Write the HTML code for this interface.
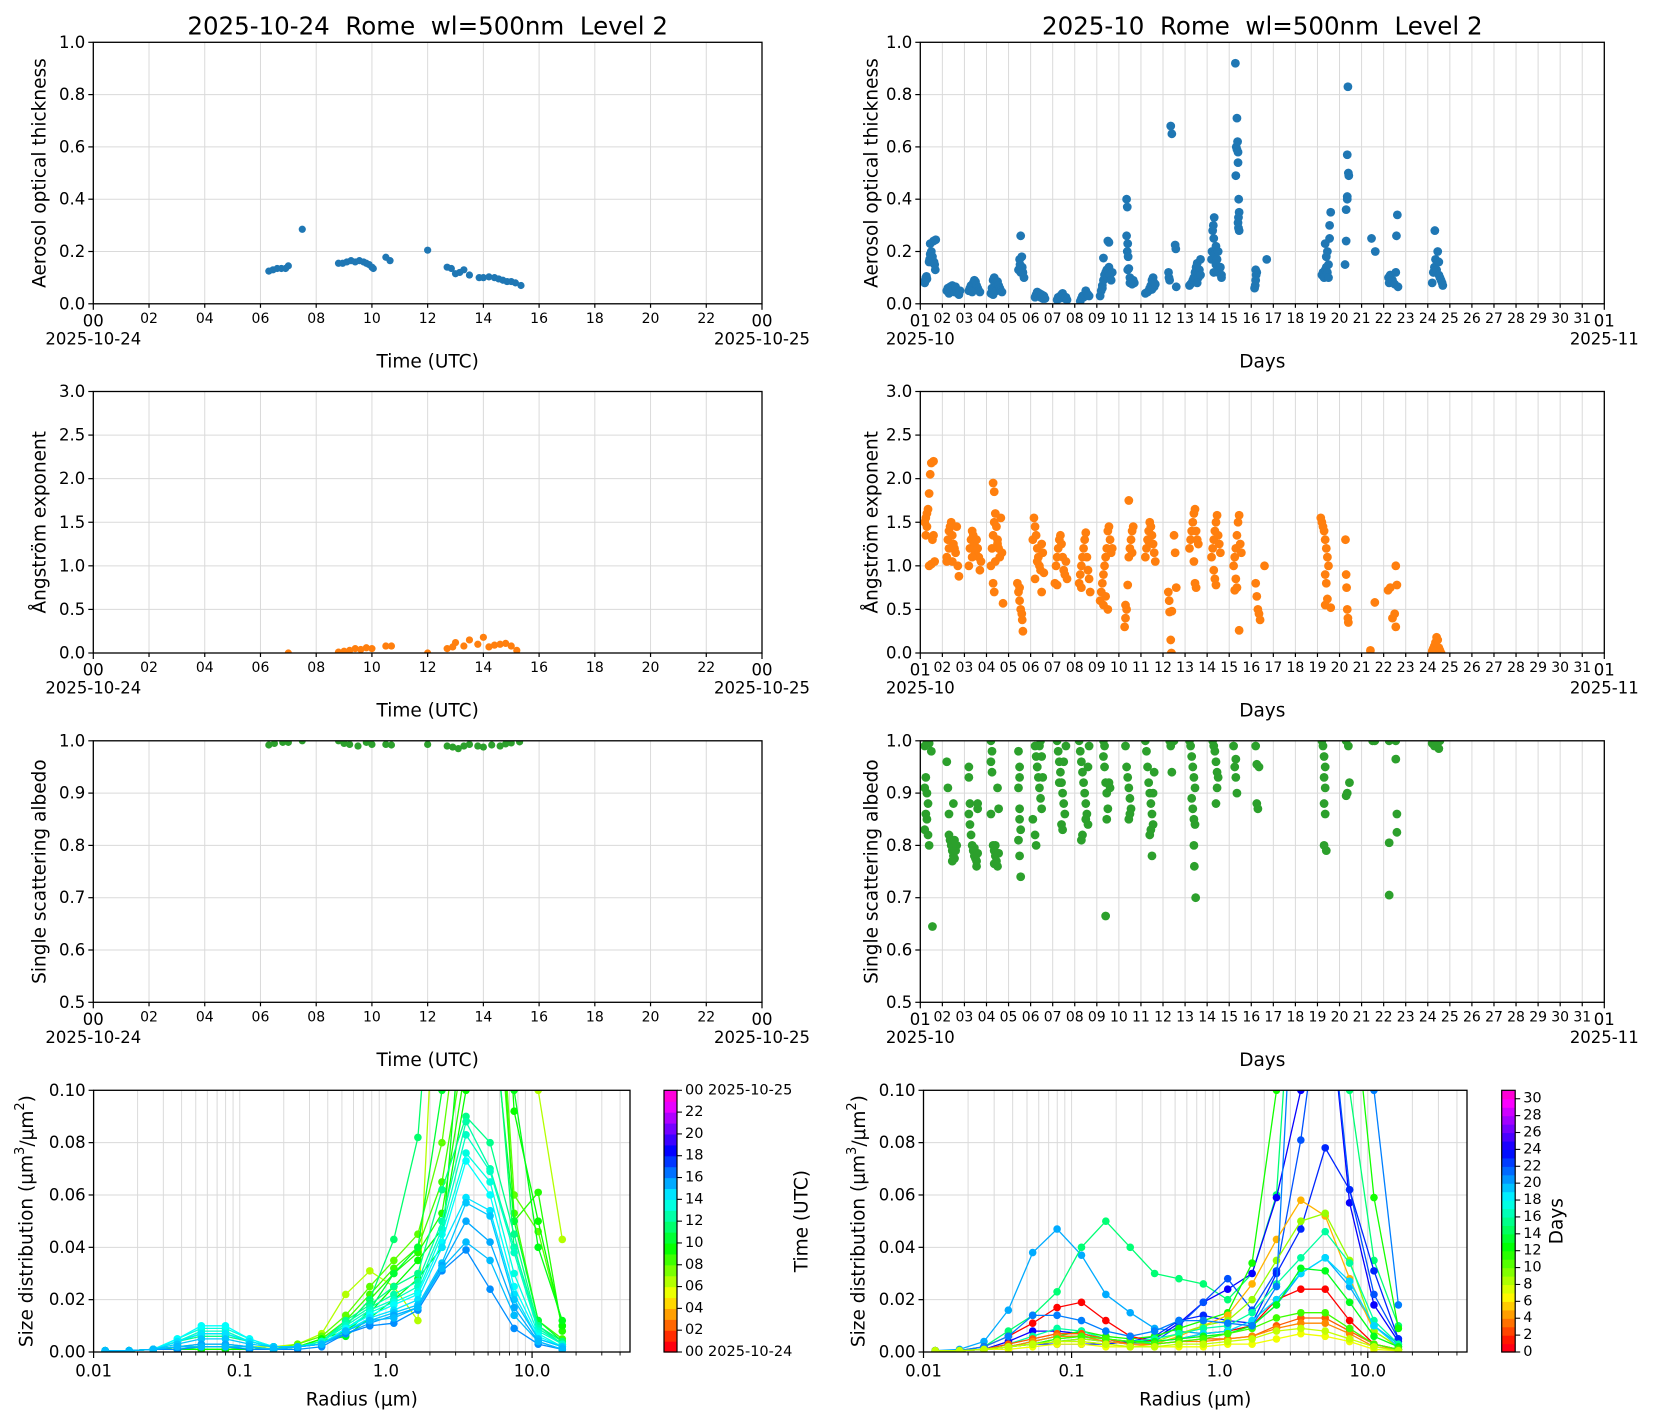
<!DOCTYPE html>
<html><head><meta charset="utf-8"><style>
html,body{margin:0;padding:0;background:#fff;}
svg{display:block;font-family:"DejaVu Sans","Liberation Sans",sans-serif;}
text{white-space:pre;}
</style></head><body>
<svg id="fig" xmlns="http://www.w3.org/2000/svg" width="1654" height="1420" viewBox="0 0 1654 1420"></svg>
<script>
// ---------- DATA ----------
const dayAodH=[6.3,6.45,6.6,6.75,6.9,7.0,7.5,8.8,8.95,9.1,9.25,9.4,9.55,9.7,9.8,9.9,10.0,10.05,10.5,10.65,12.0,12.7,12.85,13.0,13.15,13.3,13.5,13.85,14.0,14.2,14.4,14.55,14.7,14.85,15.0,15.15,15.35];
const dayAodV=[0.125,0.13,0.135,0.135,0.135,0.145,0.285,0.155,0.155,0.16,0.165,0.16,0.165,0.16,0.155,0.15,0.14,0.135,0.178,0.165,0.205,0.14,0.135,0.115,0.12,0.13,0.11,0.1,0.1,0.103,0.1,0.095,0.09,0.085,0.085,0.08,0.07];
const dayAngH=[7.0,8.8,9.0,9.2,9.4,9.6,9.8,10.0,10.5,10.7,12.0,12.7,12.9,13.0,13.3,13.5,13.8,14.0,14.2,14.4,14.6,14.8,15.0,15.2];
const dayAngV=[0.0,0.01,0.02,0.03,0.05,0.04,0.06,0.05,0.08,0.08,0.0,0.05,0.07,0.12,0.08,0.15,0.1,0.18,0.07,0.09,0.1,0.11,0.08,0.03];
const daySsaH=[6.3,6.5,6.8,7.0,7.5,8.8,9.0,9.2,9.5,9.8,10.0,10.5,10.7,12.0,12.7,12.9,13.1,13.3,13.5,13.8,14.0,14.3,14.6,14.8,15.0,15.3];
const daySsaV=[0.992,0.995,0.997,0.997,1.0,1.0,0.995,0.993,0.99,0.997,0.993,0.993,0.992,0.993,0.99,0.988,0.985,0.99,0.993,0.99,0.988,0.992,0.99,0.994,0.996,0.998];

const monAod=[[0.2,.08],[0.22,.09],[0.25,.1],[0.28,.105],[0.3,.095],[0.4,.16],[0.42,.17],[0.45,.19],[0.45,.23],[0.5,.2],[0.55,.18],[0.6,.24],[0.62,.16],[0.65,.15],[0.68,.13],[0.7,.245],
[1.2,.05],[1.25,.06],[1.3,.04],[1.35,.065],[1.4,.05],[1.45,.07],[1.5,.06],[1.55,.045],[1.6,.065],[1.65,.05],[1.7,.04],[1.75,.035],[1.8,.05],
[2.2,.05],[2.25,.06],[2.3,.07],[2.35,.055],[2.4,.08],[2.45,.09],[2.5,.085],[2.55,.07],[2.6,.06],[2.65,.05],[2.7,.045],[2.35,.045],
[3.2,.04],[3.25,.06],[3.3,.09],[3.35,.1],[3.4,.08],[3.45,.05],[3.5,.085],[3.55,.07],[3.6,.06],[3.65,.05],[3.7,.045],[3.3,.035],
[4.45,.13],[4.5,.17],[4.52,.15],[4.55,.26],[4.6,.18],[4.62,.14],[4.65,.12],[4.7,.1],[4.55,.12],
[5.2,.025],[5.25,.035],[5.3,.045],[5.35,.03],[5.4,.04],[5.45,.025],[5.5,.035],[5.55,.02],[5.6,.03],[5.65,.02],
[6.2,.015],[6.25,.025],[6.3,.02],[6.35,.03],[6.4,.035],[6.45,.04],[6.5,.03],[6.55,.02],[6.6,.025],[6.65,.015],
[7.25,.01],[7.3,.02],[7.35,.03],[7.4,.025],[7.45,.035],[7.5,.05],[7.55,.04],[7.6,.035],[7.65,.03],
[8.15,.03],[8.2,.05],[8.25,.07],[8.3,.09],[8.3,.175],[8.35,.11],[8.4,.12],[8.45,.13],[8.5,.1],[8.5,.24],[8.55,.14],[8.6,.11],[8.65,.09],[8.7,.12],[8.55,.235],[8.25,.06],
[9.35,.4],[9.38,.37],[9.35,.26],[9.4,.23],[9.38,.2],[9.42,.18],[9.4,.13],[9.45,.135],[9.5,.1],[9.55,.085],[9.6,.075],[9.65,.09],[9.7,.08],[9.5,.08],
[10.2,.04],[10.3,.045],[10.35,.05],[10.4,.06],[10.45,.07],[10.5,.09],[10.55,.1],[10.6,.08],[10.5,.055],[10.6,.065],[10.65,.075],
[11.25,.12],[11.27,.1],[11.3,.09],[11.35,.68],[11.4,.65],[11.55,.225],[11.58,.21],[11.6,.065],
[12.2,.07],[12.25,.075],[12.3,.08],[12.35,.09],[12.4,.1],[12.45,.12],[12.5,.14],[12.55,.155],[12.6,.1],[12.65,.13],[12.7,.17],[12.7,.11],[12.55,.08],
[13.2,.17],[13.22,.2],[13.25,.28],[13.28,.3],[13.3,.25],[13.32,.33],[13.35,.19],[13.4,.22],[13.4,.15],[13.45,.17],[13.5,.12],[13.5,.2],[13.55,.13],[13.6,.14],[13.65,.11],[13.65,.1],[13.3,.12],
[14.28,.92],[14.35,.71],[14.38,.62],[14.32,.6],[14.35,.59],[14.4,.58],[14.4,.54],[14.3,.49],[14.43,.4],[14.45,.35],[14.42,.33],[14.4,.31],[14.42,.29],[14.45,.28],
[15.15,.06],[15.18,.07],[15.2,.09],[15.22,.11],[15.25,.12],[15.2,.13],[15.7,.17],
[18.2,.11],[18.25,.12],[18.3,.1],[18.35,.13],[18.4,.14],[18.4,.18],[18.45,.2],[18.45,.12],[18.5,.15],[18.55,.25],[18.55,.3],[18.6,.35],[18.5,.1],[18.35,.23],
[19.25,.15],[19.3,.24],[19.3,.36],[19.35,.41],[19.35,.4],[19.4,.5],[19.42,.49],[19.35,.57],[19.38,.83],
[20.45,.25],[20.62,.2],
[21.22,.1],[21.25,.08],[21.3,.11],[21.4,.09],[21.5,.075],[21.55,.12],[21.58,.26],[21.62,.34],[21.65,.065],
[23.2,.08],[23.25,.12],[23.3,.14],[23.35,.17],[23.32,.28],[23.4,.13],[23.45,.2],[23.5,.11],[23.5,.16],[23.55,.1],[23.6,.09],[23.65,.08],[23.68,.07]];

const monAng=[[0.2,1.5],[0.25,1.55],[0.3,1.6],[0.35,1.65],[0.4,1.83],[0.45,2.05],[0.5,2.18],[0.6,2.2],[0.3,1.45],[0.25,1.35],[0.55,1.3],[0.4,1.0],[0.5,1.02],[0.65,1.05],[0.6,1.35],
[1.2,1.1],[1.25,1.3],[1.3,1.4],[1.35,1.45],[1.4,1.5],[1.45,1.35],[1.5,1.25],[1.55,1.2],[1.6,1.15],[1.65,1.45],[1.3,1.2],[1.45,1.05],[1.7,1.0],[1.75,0.88],[1.2,1.05],
[2.2,1.0],[2.25,1.2],[2.3,1.3],[2.35,1.4],[2.4,1.35],[2.45,1.25],[2.5,1.15],[2.55,1.3],[2.6,1.2],[2.65,1.1],[2.7,0.95],[2.35,1.1],[2.75,1.05],
[3.2,1.0],[3.25,1.2],[3.3,1.35],[3.35,1.5],[3.3,1.95],[3.35,1.85],[3.4,1.6],[3.45,1.45],[3.5,1.3],[3.55,1.2],[3.6,1.1],[3.65,1.55],[3.7,1.15],[3.3,0.8],[3.35,0.7],[3.75,0.57],[3.4,1.05],[3.5,1.25],
[4.4,0.8],[4.45,0.7],[4.5,0.6],[4.55,0.5],[4.6,0.45],[4.62,0.38],[4.65,0.25],[4.5,0.75],
[5.1,1.3],[5.15,1.55],[5.2,1.45],[5.25,1.35],[5.3,1.2],[5.35,1.1],[5.4,1.0],[5.45,0.95],[5.5,1.25],[5.55,1.15],[5.6,0.92],[5.2,0.85],[5.5,0.7],[5.3,1.05],
[6.1,0.8],[6.15,1.0],[6.2,1.1],[6.25,1.2],[6.3,1.3],[6.35,1.35],[6.4,1.25],[6.45,1.1],[6.5,0.95],[6.55,0.9],[6.6,1.05],[6.65,0.85],[6.2,0.78],
[7.2,0.8],[7.25,0.9],[7.3,1.0],[7.35,1.1],[7.4,1.2],[7.45,1.3],[7.5,1.38],[7.55,1.1],[7.6,0.95],[7.65,0.85],[7.7,0.7],[7.3,0.75],
[8.15,0.6],[8.2,0.7],[8.25,0.8],[8.3,0.9],[8.35,1.0],[8.4,1.1],[8.45,1.2],[8.5,1.4],[8.55,1.45],[8.6,1.3],[8.65,1.15],[8.7,1.2],[8.3,0.55],[8.4,0.65],[8.5,0.5],
[9.26,0.3],[9.3,0.4],[9.35,0.5],[9.3,0.55],[9.4,0.78],[9.45,1.1],[9.5,1.2],[9.55,1.3],[9.6,1.4],[9.65,1.45],[9.45,1.75],[9.6,1.15],
[10.2,1.1],[10.25,1.2],[10.3,1.3],[10.35,1.4],[10.4,1.5],[10.45,1.45],[10.5,1.35],[10.55,1.25],[10.6,1.15],[10.65,1.05],[10.35,1.28],
[11.24,0.7],[11.28,0.6],[11.3,0.47],[11.35,0.15],[11.38,0.0],[11.5,1.35],[11.55,1.15],[11.6,0.75],[11.4,0.48],
[12.2,1.2],[12.25,1.3],[12.3,1.4],[12.35,1.5],[12.4,1.6],[12.45,1.65],[12.5,1.4],[12.55,1.3],[12.6,1.25],[12.4,1.05],[12.45,0.8],[12.5,0.75],
[13.2,1.1],[13.25,1.2],[13.3,1.3],[13.35,1.4],[13.4,1.5],[13.45,1.58],[13.5,1.35],[13.55,1.25],[13.6,1.15],[13.3,0.95],[13.35,0.85],[13.4,0.78],
[14.2,1.0],[14.25,1.1],[14.3,1.2],[14.35,1.35],[14.4,1.5],[14.45,1.58],[14.5,1.25],[14.55,1.15],[14.3,0.85],[14.35,0.75],[14.25,0.72],[14.45,0.26],
[15.2,0.8],[15.25,0.65],[15.3,0.5],[15.35,0.45],[15.4,0.38],[15.6,1.0],
[18.15,1.55],[18.2,1.5],[18.25,1.45],[18.3,1.4],[18.35,1.3],[18.4,1.2],[18.45,1.1],[18.5,1.0],[18.35,0.9],[18.4,0.8],[18.45,0.62],[18.35,0.55],[18.6,0.52],
[19.27,1.3],[19.3,0.9],[19.32,0.75],[19.35,0.5],[19.38,0.4],[19.4,0.35],
[20.4,0.03],[20.6,0.58],
[21.2,0.72],[21.3,0.75],[21.55,1.0],[21.6,0.78],[21.4,0.4],[21.5,0.45],[21.55,0.3],
[23.2,0.02],[23.25,0.05],[23.3,0.08],[23.35,0.12],[23.4,0.18],[23.45,0.15],[23.5,0.06],[23.55,0.03],[23.6,0.0]];

const monSsa=[[0.2,0.99],[0.3,1.0],[0.4,0.995],[0.5,0.98],[0.25,0.93],[0.2,0.91],[0.3,0.9],[0.35,0.88],[0.25,0.86],[0.3,0.85],[0.2,0.83],[0.35,0.82],[0.4,0.8],[0.55,0.645],
[1.2,0.96],[1.25,0.91],[1.5,0.88],[1.3,0.86],[1.3,0.82],[1.35,0.81],[1.4,0.8],[1.45,0.79],[1.5,0.78],[1.55,0.775],[1.6,0.79],[1.65,0.8],[1.45,0.77],[1.55,0.81],
[2.2,0.95],[2.2,0.93],[2.25,0.88],[2.2,0.86],[2.25,0.84],[2.3,0.82],[2.35,0.8],[2.4,0.79],[2.45,0.78],[2.5,0.775],[2.55,0.77],[2.6,0.785],[2.45,0.795],[2.55,0.76],[2.6,0.88],[2.6,0.87],
[3.2,1.0],[3.25,0.98],[3.2,0.96],[3.25,0.94],[3.5,0.91],[3.55,0.87],[3.2,0.86],[3.3,0.8],[3.35,0.79],[3.4,0.78],[3.45,0.77],[3.5,0.76],[3.55,0.785],[3.4,0.8],[3.35,0.765],
[4.45,0.98],[4.5,0.95],[4.5,0.93],[4.45,0.91],[4.5,0.87],[4.5,0.85],[4.55,0.83],[4.45,0.81],[4.5,0.78],[4.55,0.74],
[5.2,0.99],[5.25,0.97],[5.3,0.95],[5.35,0.93],[5.4,0.91],[5.45,0.89],[5.5,0.87],[5.3,0.95],[5.4,0.99],[5.5,0.97],[5.55,0.93],[5.1,0.85],[5.2,0.82],[5.25,0.8],[5.45,1.0],
[6.2,1.0],[6.25,0.98],[6.3,0.96],[6.35,0.94],[6.4,0.92],[6.45,0.9],[6.5,0.88],[6.55,0.86],[6.4,0.84],[6.45,0.83],[6.5,0.96],[6.6,0.99],[6.3,0.92],
[7.2,1.0],[7.25,0.98],[7.3,0.96],[7.35,0.94],[7.4,0.92],[7.45,0.9],[7.5,0.88],[7.55,0.86],[7.6,0.84],[7.35,0.82],[7.5,0.85],[7.6,0.95],[7.3,0.81],[7.65,0.99],
[8.3,1.0],[8.35,0.99],[8.3,0.97],[8.35,0.95],[8.4,0.92],[8.45,0.9],[8.5,0.87],[8.45,0.85],[8.4,0.665],[8.55,0.92],[8.6,0.91],
[9.3,0.99],[9.35,0.95],[9.4,0.93],[9.45,0.91],[9.5,0.89],[9.55,0.87],[9.45,0.85],[9.5,0.86],
[10.2,1.0],[10.25,0.98],[10.3,0.95],[10.35,0.92],[10.4,0.9],[10.45,0.88],[10.5,0.86],[10.55,0.84],[10.4,0.82],[10.45,0.83],[10.5,0.78],[10.55,0.9],[10.6,0.94],
[11.3,1.0],[11.35,0.99],[11.5,1.0],[11.4,0.94],
[12.2,1.0],[12.25,0.99],[12.3,0.97],[12.35,0.95],[12.4,0.93],[12.45,0.91],[12.3,0.89],[12.35,0.87],[12.4,0.85],[12.45,0.84],[12.4,0.8],[12.42,0.76],[12.48,0.7],
[13.25,1.0],[13.3,0.99],[13.35,0.98],[13.4,0.96],[13.45,0.94],[13.5,0.93],[13.45,0.91],[13.4,0.88],
[14.2,0.99],[14.3,0.965],[14.25,0.95],[14.3,0.93],[14.35,0.9],
[15.2,0.99],[15.25,0.955],[15.35,0.95],[15.25,0.88],[15.3,0.87],
[18.2,1.0],[18.25,0.99],[18.3,0.97],[18.35,0.95],[18.3,0.93],[18.35,0.91],[18.3,0.88],[18.35,0.86],[18.3,0.8],[18.4,0.79],
[19.3,1.0],[19.4,0.99],[19.45,0.92],[19.35,0.9],[19.3,0.895],
[20.5,1.0],[20.6,1.0],
[21.25,1.0],[21.55,1.0],[21.55,0.965],[21.6,0.86],[21.6,0.825],[21.25,0.805],[21.25,0.705],
[23.2,0.995],[23.3,0.99],[23.4,0.995],[23.5,0.985],[23.55,1.0]];

const radii=[0.012,0.0175,0.0256,0.0374,0.0546,0.0798,0.1166,0.1703,0.2488,0.3635,0.531,0.7757,1.133,1.655,2.418,3.532,5.16,7.538,11.01,16.09];
const dayPsdTimes=[6.5,8.0,8.5,9.0,9.5,10.0,10.5,11.5,12.0,12.5,13.0,13.5,14.0,14.5,15.0,15.5,16.0,15.2];
const dayPsd=[
[0.0005,0.0005,0.001,0.002,0.002,0.002,0.002,0.002,0.003,0.007,0.022,0.031,0.025,0.012,0.2,0.3,0.25,0.12,0.1,0.043],
[0.0005,0.0005,0.001,0.001,0.001,0.001,0.001,0.001,0.003,0.006,0.014,0.025,0.035,0.045,0.08,0.15,0.2,0.06,0.046,0.01],
[0.0005,0.0005,0.001,0.001,0.001,0.001,0.001,0.001,0.002,0.005,0.012,0.022,0.032,0.04,0.065,0.12,0.18,0.053,0.012,0.005],
[0.0005,0.0005,0.001,0.001,0.001,0.001,0.001,0.001,0.002,0.004,0.01,0.02,0.03,0.038,0.053,0.11,0.2,0.05,0.061,0.008],
[0.0005,0.0005,0.001,0.001,0.001,0.001,0.001,0.001,0.002,0.005,0.008,0.015,0.025,0.035,0.047,0.1,0.25,0.092,0.05,0.01],
[0.0005,0.0005,0.001,0.001,0.002,0.002,0.001,0.001,0.002,0.004,0.006,0.013,0.02,0.028,0.04,0.15,0.15,0.1,0.04,0.012],
[0.0005,0.0005,0.001,0.002,0.002,0.002,0.002,0.001,0.002,0.004,0.007,0.016,0.03,0.04,0.1,0.2,0.14,0.05,0.012,0.004],
[0.0005,0.0005,0.001,0.002,0.003,0.003,0.002,0.001,0.002,0.004,0.01,0.02,0.043,0.082,0.2,0.25,0.15,0.04,0.01,0.004],
[0.0005,0.0005,0.001,0.004,0.006,0.006,0.004,0.002,0.002,0.004,0.012,0.018,0.025,0.03,0.062,0.09,0.08,0.045,0.01,0.003],
[0.0005,0.0005,0.001,0.004,0.007,0.007,0.004,0.002,0.002,0.004,0.011,0.017,0.022,0.027,0.05,0.088,0.07,0.04,0.009,0.003],
[0.0005,0.0005,0.001,0.004,0.008,0.008,0.004,0.002,0.002,0.004,0.01,0.016,0.02,0.025,0.047,0.083,0.069,0.038,0.008,0.003],
[0.0005,0.0005,0.001,0.005,0.009,0.009,0.005,0.002,0.002,0.003,0.009,0.015,0.019,0.023,0.045,0.076,0.065,0.03,0.007,0.002],
[0.0005,0.0005,0.001,0.005,0.01,0.01,0.005,0.002,0.002,0.003,0.009,0.014,0.018,0.022,0.042,0.073,0.06,0.025,0.006,0.002],
[0.0005,0.0005,0.001,0.004,0.007,0.007,0.004,0.002,0.002,0.003,0.008,0.013,0.016,0.02,0.04,0.059,0.054,0.022,0.005,0.002],
[0.0005,0.0005,0.001,0.003,0.005,0.005,0.003,0.002,0.002,0.003,0.008,0.012,0.015,0.018,0.034,0.057,0.052,0.02,0.005,0.002],
[0.0005,0.0005,0.001,0.002,0.003,0.003,0.002,0.001,0.002,0.003,0.007,0.011,0.014,0.017,0.033,0.05,0.042,0.017,0.004,0.001],
[0.0005,0.0005,0.001,0.001,0.002,0.002,0.001,0.001,0.001,0.002,0.007,0.01,0.011,0.016,0.031,0.039,0.024,0.009,0.003,0.001],
[0.0005,0.0005,0.001,0.002,0.002,0.002,0.002,0.001,0.002,0.003,0.008,0.012,0.013,0.017,0.032,0.042,0.035,0.014,0.004,0.001]];
const monPsdDays=[20,15,24,22,23,12,1,5,9,16,19,13,3,4,7,11,21,8];
const monPsd=[
[0.0005,0.001,0.004,0.016,0.038,0.047,0.037,0.022,0.015,0.009,0.008,0.007,0.008,0.01,0.018,0.03,0.036,0.025,0.01,0.003],
[0.0005,0.0005,0.002,0.008,0.014,0.023,0.04,0.05,0.04,0.03,0.028,0.026,0.02,0.03,0.06,0.2,0.15,0.1,0.035,0.01],
[0.0005,0.0005,0.001,0.004,0.008,0.008,0.007,0.005,0.003,0.005,0.011,0.019,0.024,0.03,0.059,0.1,0.15,0.057,0.018,0.004],
[0.0005,0.0005,0.001,0.002,0.003,0.004,0.005,0.004,0.003,0.004,0.01,0.019,0.028,0.016,0.031,0.081,0.15,0.062,0.022,0.005],
[0.0005,0.0005,0.001,0.002,0.003,0.003,0.003,0.003,0.004,0.006,0.012,0.014,0.012,0.011,0.03,0.047,0.078,0.062,0.031,0.005],
[0.0005,0.0005,0.001,0.002,0.004,0.006,0.008,0.006,0.005,0.006,0.009,0.012,0.015,0.034,0.1,0.2,0.2,0.15,0.059,0.009],
[0.0005,0.0005,0.002,0.006,0.011,0.017,0.019,0.012,0.006,0.004,0.005,0.007,0.008,0.01,0.02,0.024,0.024,0.012,0.003,0.001],
[0.0005,0.0005,0.001,0.002,0.003,0.004,0.004,0.003,0.002,0.003,0.006,0.01,0.014,0.026,0.043,0.058,0.052,0.028,0.008,0.002],
[0.0005,0.0005,0.001,0.002,0.003,0.004,0.005,0.004,0.003,0.004,0.007,0.01,0.012,0.02,0.035,0.05,0.053,0.035,0.008,0.002],
[0.0005,0.0005,0.001,0.003,0.006,0.009,0.008,0.005,0.004,0.005,0.007,0.009,0.01,0.015,0.026,0.036,0.046,0.034,0.012,0.003],
[0.0005,0.0005,0.001,0.002,0.004,0.006,0.006,0.004,0.003,0.004,0.005,0.007,0.008,0.012,0.02,0.03,0.036,0.027,0.01,0.002],
[0.0005,0.0005,0.001,0.002,0.003,0.005,0.006,0.005,0.004,0.004,0.005,0.006,0.007,0.01,0.018,0.032,0.031,0.019,0.006,0.002],
[0.0005,0.0005,0.001,0.003,0.005,0.007,0.007,0.005,0.003,0.003,0.004,0.005,0.005,0.006,0.01,0.013,0.013,0.008,0.003,0.001],
[0.0005,0.0005,0.001,0.002,0.004,0.006,0.006,0.004,0.003,0.003,0.004,0.004,0.005,0.006,0.009,0.011,0.011,0.007,0.002,0.001],
[0.0005,0.0005,0.001,0.001,0.002,0.003,0.003,0.002,0.002,0.002,0.002,0.002,0.003,0.003,0.005,0.007,0.006,0.004,0.001,0.0005],
[0.0005,0.0005,0.001,0.002,0.003,0.005,0.006,0.005,0.004,0.003,0.004,0.005,0.007,0.009,0.013,0.015,0.015,0.009,0.003,0.001],
[0.0005,0.0005,0.002,0.006,0.014,0.014,0.012,0.008,0.006,0.008,0.012,0.012,0.011,0.01,0.025,0.2,0.2,0.15,0.1,0.018],
[0.0005,0.0005,0.001,0.002,0.003,0.004,0.004,0.003,0.002,0.002,0.003,0.003,0.004,0.005,0.008,0.009,0.008,0.005,0.002,0.0005]];
const leftTimeTicks=["00","02","04","06","08","10","12","14","16","18","20","22","00"];
const rightDayTicks=["01","02","03","04","05","06","07","08","09","10","11","12","13","14","15","16","17","18","19","20","21","22","23","24","25","26","27","28","29","30","31","01"];

// ---------- HELPERS ----------
const NS="http://www.w3.org/2000/svg";
const svg=document.getElementById('fig');
function mk(tag,attrs,parent){const e=document.createElementNS(NS,tag);for(const k in attrs)e.setAttribute(k,attrs[k]);(parent||svg).appendChild(e);return e;}
function txt(s,x,y,size,anchor,parent,extra){const t=mk('text',Object.assign({x:x,y:y,'font-size':size,'text-anchor':anchor||'middle','dominant-baseline':'central',fill:'#000'},extra||{}),parent);t.textContent=s;return t;}
function cmap(t){t=Math.max(0,Math.min(1,t));const h=(350+t*325)%360;return 'hsl('+h.toFixed(1)+',100%,50%)';}
const GRID='#dadada';
let clipId=0;
function panel(name,L,T,W,H,xmin,xmax,ymin,ymax,logx){
  const g=mk('g',{});
  
  
  const sx=logx?(v=>L+(Math.log10(v)-Math.log10(xmin))/(Math.log10(xmax)-Math.log10(xmin))*W):(v=>L+(v-xmin)/(xmax-xmin)*W);
  const sy=v=>T+H-(v-ymin)/(ymax-ymin)*H;
  const id='c'+(clipId++);
  const cp=mk('clipPath',{id:id},g);mk('rect',{x:L,y:T,width:W,height:H},cp);
  const grid=mk('g',{},g);
  const plot=mk('g',{'clip-path':'url(#'+id+')'},g);
  return {g,grid,plot,sx,sy,L,T,W,H};
}
function frame(p){const f=mk('rect',{x:p.L,y:p.T,width:p.W,height:p.H,fill:'none',stroke:'#000','stroke-width':1.3},p.g);}
function yTicks(p,vals,fmt,fs){vals.forEach(v=>{const y=p.sy(v);mk('line',{x1:p.L,x2:p.L+p.W,y1:y,y2:y,stroke:GRID,'stroke-width':1},p.grid);mk('line',{x1:p.L-5,x2:p.L,y1:y,y2:y,stroke:'#000','stroke-width':1.2},p.g);const t=txt(fmt(v),p.L-8,y,fs||16.5,'end',p.g);});}
function scatter(p,xs,ys,color,r,name){for(let i=0;i<xs.length;i++){const c=mk('circle',{cx:p.sx(xs[i]),cy:p.sy(ys[i]),r:r,fill:color},p.plot);}}
function ylabel(s,x,y,size,parent){const t=txt(s,x,y,size,'middle',parent,{transform:'rotate(-90 '+x+' '+y+')'});return t;}

const LL=93.3,LW=668.7,RL=920.3,RW=684,TOPS=[42.3,391.5,740.8],PH=261.5;

function timeAxis(p,date1,date2){
  leftTimeTicks.forEach((lab,i)=>{const h=i*2;const x=p.sx(h);
    mk('line',{x1:x,x2:x,y1:p.T,y2:p.T+p.H,stroke:GRID,'stroke-width':1},p.grid);
    const major=(i===0||i===12);
    mk('line',{x1:x,x2:x,y1:p.T+p.H,y2:p.T+p.H+(major?6:4),stroke:'#000','stroke-width':1.2},p.g);
    const t=txt(lab,x,p.T+p.H+(major?17:15),major?16.5:14,'middle',p.g);
    if(major){const d=txt(i===0?date1:date2,x,p.T+p.H+35,16.5,'middle',p.g);}
  });
  const xl=txt('Time (UTC)',p.L+p.W/2,p.T+p.H+58,18.5,'middle',p.g);
}
function dayAxis(p){
  rightDayTicks.forEach((lab,i)=>{const x=p.sx(i);
    mk('line',{x1:x,x2:x,y1:p.T,y2:p.T+p.H,stroke:GRID,'stroke-width':1},p.grid);
    const major=(i===0||i===31);
    mk('line',{x1:x,x2:x,y1:p.T+p.H,y2:p.T+p.H+(major?6:4),stroke:'#000','stroke-width':1.2},p.g);
    const t=txt(lab,x,p.T+p.H+(major?17:15),major?16.5:14,'middle',p.g);
    if(major){const d=txt(i===0?'2025-10':'2025-11',x,p.T+p.H+35,16.5,'middle',p.g);}
  });
  const xl=txt('Days',p.L+p.W/2,p.T+p.H+58,18.5,'middle',p.g);
}

// Titles
let tt=txt('2025-10-24  Rome  wl=500nm  Level 2',LL+LW/2,26,24.5,'middle');

tt=txt('2025-10  Rome  wl=500nm  Level 2',RL+RW/2,26,24.5,'middle');


const C0='#1f77b4',C1='#ff7f0e',C2='#2ca02c';
const f1=v=>v.toFixed(1);
// Row 1
let p=panel('daily-aod-panel',LL,TOPS[0],LW,PH,0,24,0,1);
yTicks(p,[0,0.2,0.4,0.6,0.8,1.0],f1);timeAxis(p,'2025-10-24','2025-10-25');
scatter(p,dayAodH,dayAodV,C0,3.6,'aod-point');frame(p);ylabel('Aerosol optical thickness',40,TOPS[0]+PH/2,18.5,p.g);
p=panel('monthly-aod-panel',RL,TOPS[0],RW,PH,0,31,0,1);
yTicks(p,[0,0.2,0.4,0.6,0.8,1.0],f1);dayAxis(p);
scatter(p,monAod.map(d=>d[0]),monAod.map(d=>d[1]),C0,4.4,'aod-point');frame(p);ylabel('Aerosol optical thickness',872,TOPS[0]+PH/2,18.5,p.g);
// Row 2
p=panel('daily-angstrom-panel',LL,TOPS[1],LW,PH,0,24,0,3);
yTicks(p,[0,0.5,1,1.5,2,2.5,3],f1);timeAxis(p,'2025-10-24','2025-10-25');
scatter(p,dayAngH,dayAngV,C1,3.6,'angstrom-point');frame(p);ylabel('Ångström exponent',40,TOPS[1]+PH/2,18.5,p.g);
p=panel('monthly-angstrom-panel',RL,TOPS[1],RW,PH,0,31,0,3);
yTicks(p,[0,0.5,1,1.5,2,2.5,3],f1);dayAxis(p);
scatter(p,monAng.map(d=>d[0]),monAng.map(d=>d[1]),C1,4.4,'angstrom-point');frame(p);ylabel('Ångström exponent',872,TOPS[1]+PH/2,18.5,p.g);
// Row 3
p=panel('daily-ssa-panel',LL,TOPS[2],LW,PH,0,24,0.5,1);
yTicks(p,[0.5,0.6,0.7,0.8,0.9,1.0],f1);timeAxis(p,'2025-10-24','2025-10-25');
scatter(p,daySsaH,daySsaV,C2,3.6,'ssa-point');frame(p);ylabel('Single scattering albedo',40,TOPS[2]+PH/2,18.5,p.g);
p=panel('monthly-ssa-panel',RL,TOPS[2],RW,PH,0,31,0.5,1);
yTicks(p,[0.5,0.6,0.7,0.8,0.9,1.0],f1);dayAxis(p);
scatter(p,monSsa.map(d=>d[0]),monSsa.map(d=>d[1]),C2,4.4,'ssa-point');frame(p);ylabel('Single scattering albedo',872,TOPS[2]+PH/2,18.5,p.g);

// Row 4 size distributions
const BT=1090.3,BH=261.7,XMAX=Math.pow(10,1.67);
function psdPanel(name,L,W,series,keys,norm,ylx){
  const p=panel(name,L,BT,W,BH,0.01,XMAX,0,0.1,true);
  yTicks(p,[0,0.02,0.04,0.06,0.08,0.1],v=>v.toFixed(2));
  for(let e=-2;e<=1;e++){for(let m=1;m<=9;m++){const v=m*Math.pow(10,e);if(v>XMAX)break;const x=p.sx(v);
    mk('line',{x1:x,x2:x,y1:BT,y2:BT+BH,stroke:GRID,'stroke-width':1},p.grid);
    mk('line',{x1:x,x2:x,y1:BT+BH,y2:BT+BH+(m===1?6:3.5),stroke:'#000','stroke-width':m===1?1.2:0.9},p.g);
    if(m===1){const t=txt(['0.01','0.1','1.0','10.0'][e+2],x,BT+BH+19,16.5,'middle',p.g);}
  }}
  series.forEach((vals,si)=>{const col=cmap(keys[si]/norm);
    const pts=vals.map((v,i)=>p.sx(radii[i]).toFixed(1)+','+p.sy(v).toFixed(1)).join(' ');
    const pl=mk('polyline',{points:pts,fill:'none',stroke:col,'stroke-width':1.3},p.plot);
    
    
    scatter(p,radii,vals,col,3.8,'size-distribution-point');
  });
  frame(p);
  const xl=txt('Radius (μm)',L+W/2,BT+BH+48,18.5,'middle',p.g);
  const yl=mk('text',{x:ylx,y:BT+BH/2,'font-size':18.5,'text-anchor':'middle','dominant-baseline':'central',transform:'rotate(-90 '+ylx+' '+(BT+BH/2)+')'},p.g);
  
  
  yl.innerHTML='Size distribution (μm<tspan dy="-7" font-size="13">3</tspan><tspan dy="7">/μm</tspan><tspan dy="-7" font-size="13">2</tspan><tspan dy="7">)</tspan>';
  return p;
}
psdPanel('daily-size-distribution-panel',93.6,536.4,dayPsd,dayPsdTimes,24,27);
psdPanel('monthly-size-distribution-panel',923.5,543.5,monPsd,monPsdDays,31,859);

function colorbar(name,x,w,n,ticks,labels,title,tx){
  const g=mk('g',{});
  
  
  const h=BH/n;
  for(let i=0;i<n;i++){mk('rect',{x:x,y:BT+BH-(i+1)*h,width:w,height:h+0.6,fill:cmap((i+0.5)/n)},g);}
  mk('rect',{x:x,y:BT,width:w,height:BH,fill:'none',stroke:'#000','stroke-width':1.2},g);
  ticks.forEach((v,i)=>{const y=BT+BH-v/n*BH;mk('line',{x1:x+w,x2:x+w+5,y1:y,y2:y,stroke:'#000','stroke-width':1.1},g);
    const t=txt(labels[i],x+w+8,y,14.5,'start',g);});
  ylabel(title,tx,BT+BH/2,18.5,g);
}
const lt=[],ll=[];for(let h=0;h<=24;h+=2){lt.push(h);ll.push(h===0?'00 2025-10-24':h===24?'00 2025-10-25':String(h).padStart(2,'0'));}
colorbar('time-colorbar',664,13,24,lt,ll,'Time (UTC)',802);
const rt=[],rl=[];for(let d=0;d<=30;d+=2){rt.push(d);rl.push(String(d));}
colorbar('days-colorbar',1501.7,13.5,31,rt,rl,'Days',1557);
</script>
</body></html>
